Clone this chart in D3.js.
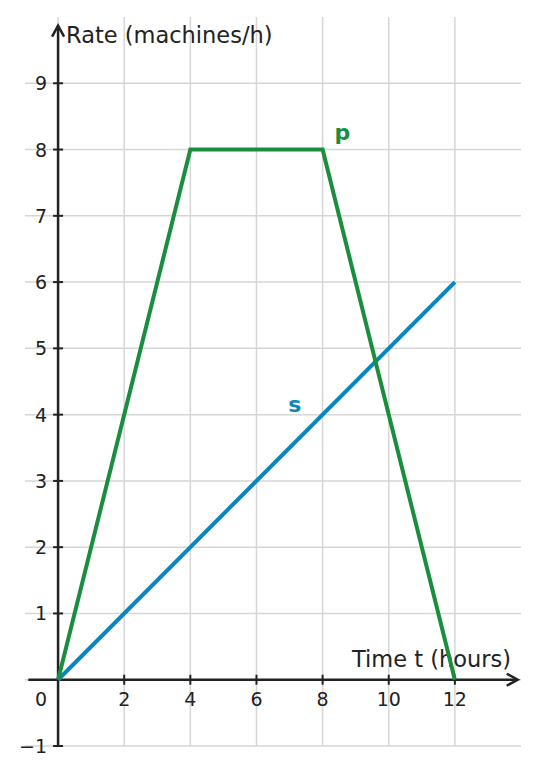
<!DOCTYPE html>
<html><head><meta charset="utf-8">
<script src="https://cdn.jsdelivr.net/npm/d3@7"></script>
<style>body{margin:0;background:#fff}svg{display:block}text{font-family:"DejaVu Sans",sans-serif}</style>
</head><body>
<script>
const pT = [0, 4, 8, 12];
const pRate = [0, 8, 8, 0];
const sT = [0, 12];
const sRate = [0, 6];
const xTicks = [2, 4, 6, 8, 10, 12];
const yTicks = [-1, 1, 2, 3, 4, 5, 6, 7, 8, 9];
const xGrid = [0, 2, 4, 6, 8, 10, 12];
const yGrid = [-1, 0, 1, 2, 3, 4, 5, 6, 7, 8, 9];

const W = 540, H = 775;
const svg = d3.select("body").append("svg").attr("width", W).attr("height", H);
const x = d3.scaleLinear().domain([-1, 14]).range([25, 521]);
const y = d3.scaleLinear().domain([-1, 10]).range([746, 17]);
const ink = "#222";

// grid
svg.append("g").selectAll("line").data(xGrid).join("line")
  .attr("x1", d => x(d)).attr("x2", d => x(d)).attr("y1", y(10)).attr("y2", y(-1))
  .attr("stroke", "#d6d6d6").attr("stroke-width", 1.5);
svg.append("g").selectAll("line").data(yGrid).join("line")
  .attr("x1", x(-1)).attr("x2", x(14)).attr("y1", d => y(d)).attr("y2", d => y(d))
  .attr("stroke", "#d6d6d6").attr("stroke-width", 1.5);

// axes
svg.append("line").attr("x1", x(-0.9)).attr("x2", x(13.85)).attr("y1", y(0)).attr("y2", y(0))
  .attr("stroke", ink).attr("stroke-width", 2.5);
svg.append("line").attr("x1", x(0)).attr("x2", x(0)).attr("y1", y(-1)).attr("y2", y(9.87))
  .attr("stroke", ink).attr("stroke-width", 2.5);
// arrowheads
const xe = x(13.9), ye0 = y(0);
svg.append("path").attr("d", `M${xe-11},${ye0-6}L${xe},${ye0}L${xe-11},${ye0+6}`)
  .attr("fill", "none").attr("stroke", ink).attr("stroke-width", 2.5);
const xa = x(0), yt = y(9.87);
svg.append("path").attr("d", `M${xa-6},${yt+11}L${xa},${yt}L${xa+6},${yt+11}`)
  .attr("fill", "none").attr("stroke", ink).attr("stroke-width", 2.5);

// ticks
svg.append("g").selectAll("line").data(xTicks).join("line")
  .attr("x1", d => x(d)).attr("x2", d => x(d)).attr("y1", y(0) - 5).attr("y2", y(0) + 5)
  .attr("stroke", ink).attr("stroke-width", 2);
svg.append("g").selectAll("line").data(yTicks).join("line")
  .attr("x1", x(0) - 5).attr("x2", x(0) + 5).attr("y1", d => y(d)).attr("y2", d => y(d))
  .attr("stroke", ink).attr("stroke-width", 2);

// tick labels
svg.append("g").selectAll("text").data(xTicks).join("text")
  .attr("x", d => x(d)).attr("y", y(0) + 26).attr("text-anchor", "middle")
  .attr("font-size", 19).attr("fill", ink).text(d => d);
svg.append("g").selectAll("text").data(yTicks).join("text")
  .attr("x", x(0) - 11).attr("y", d => y(d) + 7).attr("text-anchor", "end")
  .attr("font-size", 19).attr("fill", ink).text(d => d < 0 ? "\u2212" + Math.abs(d) : d);
svg.append("text").attr("x", 41).attr("y", y(0) + 26).attr("text-anchor", "middle")
  .attr("font-size", 19).attr("fill", ink).text("0");

// axis labels
svg.append("text").attr("x", 511).attr("y", y(0) - 13).attr("text-anchor", "end")
  .attr("font-size", 22.5).attr("fill", ink).text("Time t (hours)");
svg.append("text").attr("x", 66).attr("y", 43).attr("text-anchor", "start")
  .attr("font-size", 22.5).attr("fill", ink).text("Rate (machines/h)");

// data lines
const line = d3.line().x(d => x(d[0])).y(d => y(d[1]));
svg.append("path").datum(sT.map((t, i) => [t, sRate[i]])).attr("d", line)
  .attr("fill", "none").attr("stroke", "#0a86bf").attr("stroke-width", 4);
svg.append("path").datum(pT.map((t, i) => [t, pRate[i]])).attr("d", line)
  .attr("fill", "none").attr("stroke", "#1a8e3e").attr("stroke-width", 4).attr("stroke-linejoin", "miter");

// series labels
svg.append("text").attr("x", x(8.6)).attr("y", y(8.15)).attr("text-anchor", "middle")
  .attr("font-size", 22).attr("font-weight", "bold").attr("fill", "#1a8e3e").text("p");
svg.append("text").attr("x", x(7.16)).attr("y", y(4.04)).attr("text-anchor", "middle")
  .attr("font-size", 22).attr("font-weight", "bold").attr("fill", "#0a86bf").text("s");
</script>
</body></html>
